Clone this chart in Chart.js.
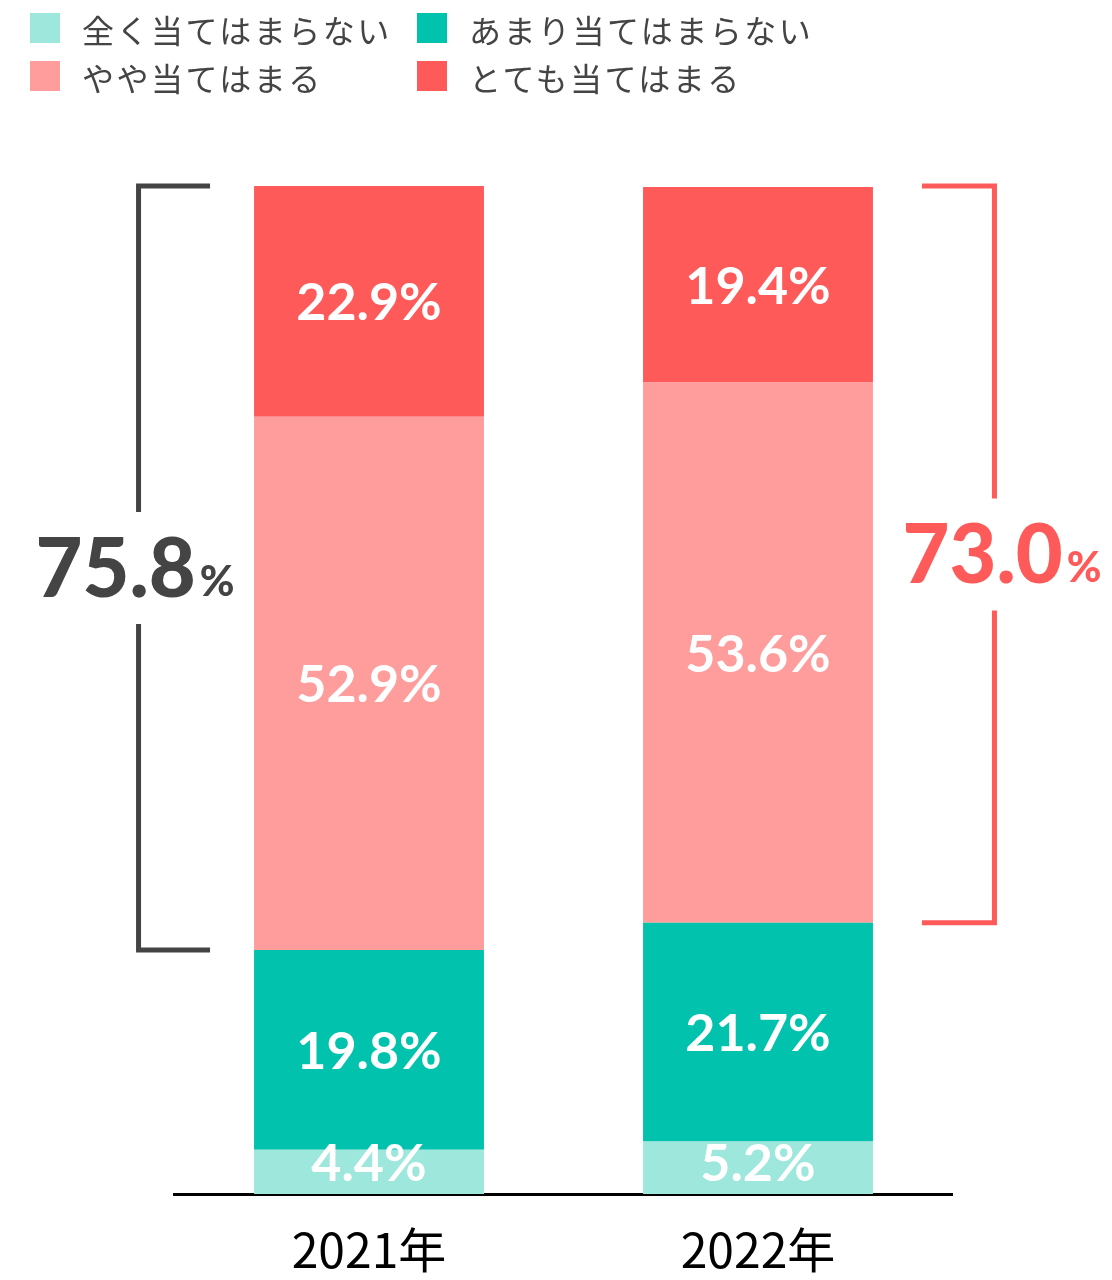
<!DOCTYPE html>
<html lang="ja">
<head>
<meta charset="utf-8">
<title>2021年・2022年 比較</title>
<script src="https://cdn.jsdelivr.net/npm/chart.js@4.4.1/dist/chart.umd.min.js"></script>
<style>
  html, body { margin: 0; padding: 0; background: #fff; }
  #wrap { position: relative; width: 1112px; height: 1280px; }
  #stackChart { position: absolute; left: 0; top: 0; }
  .legend-item { position: absolute; height: 32px; }
  .legend-item .box { position: absolute; left: 0; top: 0; width: 30px; height: 30px; }
  .legend-item .txt {
    position: absolute; left: 52px; top: 0; white-space: nowrap;
    font: 32px/32px "Noto Sans CJK JP", sans-serif; letter-spacing: 2.5px; color: #444;
  }
</style>
</head>
<body>
<div id="wrap">
  <canvas id="stackChart" width="1112" height="1280"></canvas>
  <div id="legend"></div>
</div>
<script>
// ---- Données ----
const years = ['2021年', '2022年'];
const seriesNames = ['全く当てはまらない', 'あまり当てはまらない', 'やや当てはまる', 'とても当てはまる'];
const seriesColors = ['#9ee7dc', '#00c2ad', '#ff9c9c', '#ff5a5a'];
const notAtAll   = [4.4, 5.2];
const notReally  = [19.8, 21.7];
const somewhat   = [52.9, 53.6];
const veryMuch   = [22.9, 19.4];
const totals     = ['75.8', '73.0'];      // やや + とても
const totalColors = ['#444444', '#ff5a5a'];

// ---- Légende HTML (2 x 2) ----
// ordre : ligne 1 = 0, 1 ; ligne 2 = 2, 3
const legendPos = [
  { x: 30,  y: 13 }, { x: 417, y: 13 },
  { x: 30,  y: 61 }, { x: 417, y: 61 }
];
document.getElementById('legend').innerHTML = seriesNames.map((name, i) =>
  `<div class="legend-item" style="left:${legendPos[i].x}px;top:${legendPos[i].y}px">
     <span class="box" style="background:${seriesColors[i]}"></span>
     <span class="txt">${name}</span>
   </div>`
).join('');

// ---- Étiquettes blanches dans les segments ----
const segmentLabels = {
  id: 'segmentLabels',
  afterDatasetsDraw(chart) {
    const ctx = chart.ctx;
    ctx.save();
    ctx.fillStyle = '#fff';
    ctx.font = 'bold 52px Lato, "Noto Sans", sans-serif';
    ctx.textAlign = 'center';
    ctx.textBaseline = 'alphabetic';
    chart.data.datasets.forEach((ds, di) => {
      chart.getDatasetMeta(di).data.forEach((bar, i) => {
        let cy = (bar.y + bar.base) / 2;
        // petits segments : on remonte le texte
        cy = Math.min(cy, chart.chartArea.bottom - 32);
        ctx.fillText(ds.data[i].toFixed(1) + '%', bar.x, cy + 19);
      });
    });
    ctx.restore();
  }
};

// ---- Crochets + total (やや + とても) ----
const totalBrackets = {
  id: 'totalBrackets',
  afterDatasetsDraw(chart) {
    const ctx = chart.ctx;
    const yScale = chart.scales.y;
    const top = yScale.getPixelForValue(100);
    ctx.save();
    ctx.lineWidth = 5;
    ctx.lineJoin = 'miter';
    ctx.lineCap = 'butt';

    years.forEach((_, i) => {
      const bar = chart.getDatasetMeta(0).data[i];
      const half = bar.width / 2;
      const bottom = yScale.getPixelForValue(notAtAll[i] + notReally[i]);
      const mid = (top + bottom) / 2;
      const gap = 56;
      let vx, hx, tx;
      if (i === 0) {            // à gauche
        vx = bar.x - half - 115.5;
        hx = bar.x - half - 44;
        tx = vx - 3.5;
      } else {                  // à droite
        vx = bar.x + half + 121.5;
        hx = bar.x + half + 49;
        tx = vx + 7.5;
      }
      ctx.strokeStyle = totalColors[i];
      ctx.beginPath();
      ctx.moveTo(hx, top);
      ctx.lineTo(vx, top);
      ctx.lineTo(vx, mid - gap);
      ctx.moveTo(vx, mid + gap);
      ctx.lineTo(vx, bottom);
      ctx.lineTo(hx, bottom);
      ctx.stroke();

      // texte "75.8" + "%"
      const bigFont = '900 81px Lato, "Noto Sans", sans-serif';
      const smallFont = '900 42px Lato, "Noto Sans", sans-serif';
      ctx.font = bigFont;
      const w1 = ctx.measureText(totals[i]).width;
      ctx.font = smallFont;
      const w2 = ctx.measureText('%').width;
      const x0 = tx - (w1 + 4 + w2) / 2;
      const baseY = mid + 29;
      ctx.fillStyle = totalColors[i];
      ctx.textAlign = 'left';
      ctx.textBaseline = 'alphabetic';
      ctx.font = bigFont;
      ctx.fillText(totals[i], x0, baseY);
      ctx.font = smallFont;
      ctx.fillText('%', x0 + w1 + 4, baseY - 1);
    });
    ctx.restore();
  }
};

const seriesData = [notAtAll, notReally, somewhat, veryMuch];

new Chart(document.getElementById('stackChart'), {
  type: 'bar',
  data: {
    labels: years,
    datasets: seriesNames.map((name, i) => ({
      label: name,
      data: seriesData[i],
      backgroundColor: seriesColors[i],
      borderWidth: 0,
      categoryPercentage: 1,
      barPercentage: 0.591
    }))
  },
  options: {
    responsive: false,
    animation: false,
    layout: { padding: { top: 186, left: 174.5, right: 159.5, bottom: 0 } },
    plugins: {
      legend: { display: false },
      tooltip: { enabled: false }
    },
    scales: {
      x: {
        stacked: true,
        grid: { display: false, drawTicks: false },
        border: { display: true, color: '#000', width: 3 },
        ticks: {
          color: '#000',
          padding: 27,
          font: { family: '"Noto Sans CJK JP", sans-serif', size: 48 }
        },
        // hauteur fixe de l'axe pour placer la ligne de base
        afterFit(scale) { scale.height = 86; }
      },
      y: {
        stacked: true,
        display: false,
        min: 0,
        max: 100
      }
    }
  },
  plugins: [segmentLabels, totalBrackets]
});
</script>
</body>
</html>
